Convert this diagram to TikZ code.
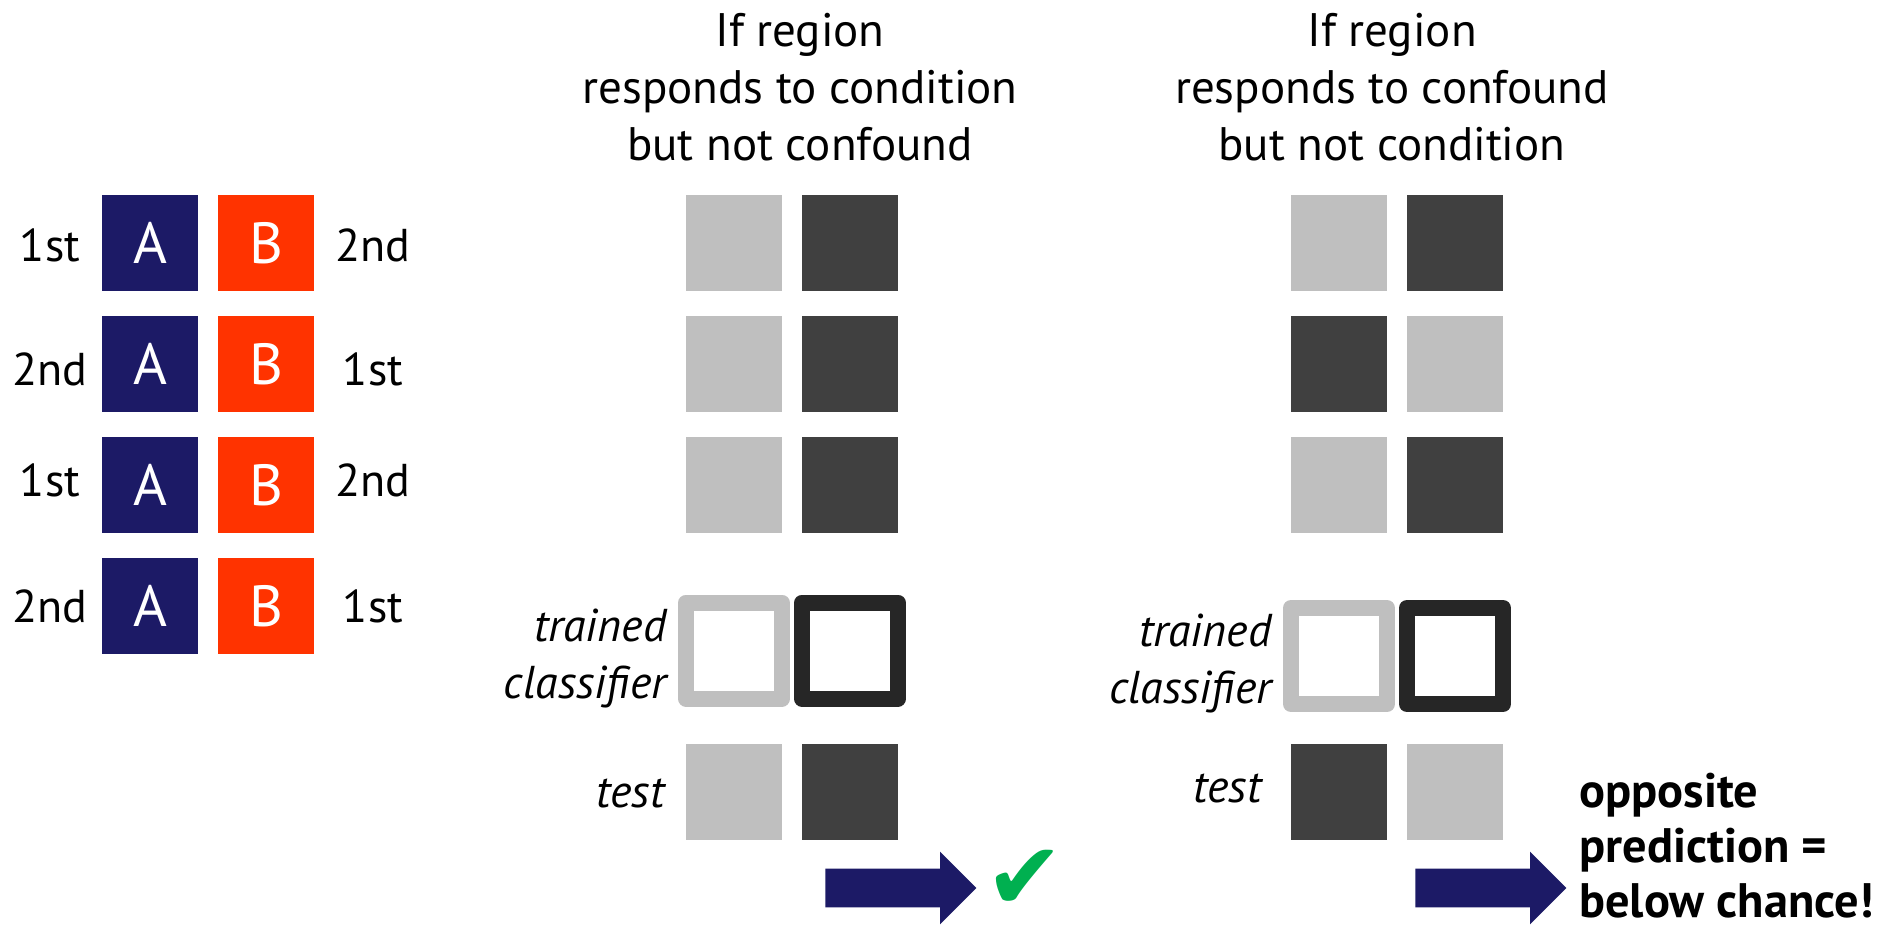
\documentclass[tikz,border=0pt]{standalone}
\usepackage{fontspec}
\setmainfont{PT Sans}
\newfontfamily\symfont{DejaVu Sans}
\usepackage{xcolor}
\usetikzlibrary{positioning,shapes.arrows}

\definecolor{navyA}{RGB}{28,26,102}
\definecolor{redB}{RGB}{255,51,0}
\definecolor{lightsq}{RGB}{191,191,191}
\definecolor{darksq}{RGB}{64,64,64}
\definecolor{darkline}{RGB}{38,38,38}
\definecolor{okgreen}{RGB}{0,176,80}

\begin{document}
\begin{tikzpicture}[x=0.5pt, y=-0.5pt]
\tikzstyle{sq}=[minimum size=48pt, inner sep=0pt, outer sep=0pt]
\tikzstyle{lo}=[sq, fill=lightsq]
\tikzstyle{hi}=[sq, fill=darksq]
\tikzstyle{condA}=[sq, fill=navyA, text=white, font=\fontsize{29}{34}\selectfont]
\tikzstyle{condB}=[condA, fill=redB]
\tikzstyle{ord}=[inner sep=0pt, anchor=base, font=\fontsize{23}{28}\selectfont]
\tikzstyle{head}=[align=center, inner sep=0pt, font=\fontsize{23.5}{28.5}\selectfont]
\tikzstyle{clf}=[sq, draw, fill=white, line width=8pt, line join=round]
\tikzstyle{side}=[inner sep=0pt, align=right, font=\fontsize{23}{28.5}\selectfont\itshape]
\tikzstyle{bigarrow}=[single arrow, fill=navyA, anchor=tail, inner sep=0pt, inner ysep=9.5pt, minimum height=75.5pt, single arrow head extend=8.5pt, single arrow tip angle=90]

\useasboundingbox (0,0) rectangle (1888,925);

% which condition came first, per run
\node[condA] (a1) at (150,243) {A};
\node[condB] (b1) at (266,243) {B};
\node[condA] (a2) at (150,364) {A};
\node[condB] (b2) at (266,364) {B};
\node[condA] (a3) at (150,485) {A};
\node[condB] (b3) at (266,485) {B};
\node[condA] (a4) at (150,606) {A};
\node[condB] (b4) at (266,606) {B};
\node[ord] (oa1) at (50,262) {1st};
\node[ord] (ob1) at (373,262) {2nd};
\node[ord] (oa2) at (50,385) {2nd};
\node[ord] (ob2) at (373,385) {1st};
\node[ord] (oa3) at (50,496) {1st};
\node[ord] (ob3) at (373,496) {2nd};
\node[ord] (oa4) at (50,622) {2nd};
\node[ord] (ob4) at (373,622) {1st};

% region follows the condition
\node[head] (hd1) at (800,87) {If region\\responds to condition\\but not confound};
\node[lo] (p11) at (734,243) {};
\node[hi] (q11) at (850,243) {};
\node[lo] (p12) at (734,364) {};
\node[hi] (q12) at (850,364) {};
\node[lo] (p13) at (734,485) {};
\node[hi] (q13) at (850,485) {};
\node[clf, draw=lightsq] (kp1) at (734,650.5) {};
\node[clf, draw=darkline] (kq1) at (850,650.5) {};
\node[side, anchor=east] (kl1) at (667,658) {trained\\classifier};
\node[lo] (tp1) at (734,792) {};
\node[hi] (tq1) at (850,792) {};
\node[side, anchor=base east] (tl1) at (665,807) {test};
\node[bigarrow] (ar1) at (825,888) {};
\node[inner sep=0pt, text=okgreen, font=\symfont\fontsize{47}{47}\selectfont] (ok) at (1025,880) {✔};

% region follows the confound
\node[head] (hd2) at (1392,87) {If region\\responds to confound\\but not condition};
\node[lo] (p21) at (1339,243) {};
\node[hi] (q21) at (1455,243) {};
\node[hi] (p22) at (1339,364) {};
\node[lo] (q22) at (1455,364) {};
\node[lo] (p23) at (1339,485) {};
\node[hi] (q23) at (1455,485) {};
\node[clf, draw=lightsq] (kp2) at (1339,656) {};
\node[clf, draw=darkline] (kq2) at (1455,656) {};
\node[side, anchor=east] (kl2) at (1272,663) {trained\\classifier};
\node[hi] (tp2) at (1339,792) {};
\node[lo] (tq2) at (1455,792) {};
\node[side, anchor=base east] (tl2) at (1262,802) {test};
\node[bigarrow] (ar2) at (1415,888) {};
\node[inner sep=0pt, align=left, anchor=west, font=\fontsize{24.2}{27.5}\selectfont\bfseries] (verdict) at (1579,846) {opposite\\prediction =\\below chance!};
\end{tikzpicture}
\end{document}
